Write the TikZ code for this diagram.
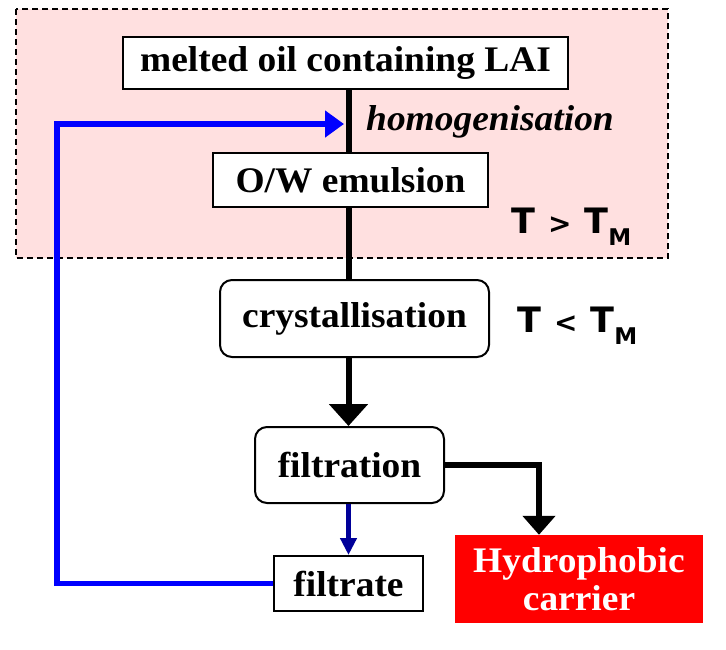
\documentclass[tikz,border=0pt]{standalone}
\usepackage{fontspec}
\setmainfont{Liberation Serif}[FakeStretch=1.04]
\newfontfamily\tfont{DejaVu Sans}
\usetikzlibrary{arrows.meta}
\definecolor{pinkbg}{HTML}{FFE0E0}
\definecolor{navyarrow}{HTML}{000099}
\newcommand{\tmlabel}[1]{T\hspace{13pt}{\fontsize{28}{28}\selectfont #1}\hspace{13pt}T\hspace{0pt}\raisebox{-12pt}{\fontsize{23}{23}\selectfont M}}
\begin{document}
\begin{tikzpicture}[x=1pt,y=-1pt,
  lbl/.style={font=\fontsize{36}{38}\selectfont\bfseries},
  sharpbox/.style={draw=black,line width=2pt,fill=white,inner sep=0pt,lbl},
  roundbox/.style={sharpbox,rounded corners=12pt},
  tlabel/.style={font=\tfont\fontsize{35}{36}\selectfont\bfseries,inner sep=0pt},
  spine/.style={line width=6pt,black},
]
\useasboundingbox (0,0) rectangle (726,649);
% background region
\draw[fill=pinkbg,dashed,dash pattern=on 6pt off 4pt,line width=1.5pt] (16,9) rectangle (668,258);

\node[sharpbox,minimum width=445pt,minimum height=52pt] (melted) at (345.5,63) {melted oil containing LAI};
\node[sharpbox,minimum width=275pt,minimum height=54pt] (emul) at (350.5,180) {O/W emulsion};
\node[roundbox,minimum width=269pt,minimum height=77pt] (cryst) at (354.5,318.5) {crystallisation};
\node[roundbox,minimum width=189pt,minimum height=76pt] (filt) at (349.5,465) {filtration};
\node[sharpbox,minimum width=149pt,minimum height=55pt] (filtrate) at (348.5,583.5) {filtrate};
\node[fill=red,text=white,minimum width=248pt,minimum height=88pt,inner sep=0pt,
      align=center,font=\fontsize{36}{38}\selectfont\bfseries] (carrier) at (579,579) {Hydrophobic\\carrier};

\node[font=\fontsize{36}{38}\selectfont\bfseries\itshape,anchor=base west,inner sep=0pt] (homog) at (366,130) {homogenisation};
\node[tlabel,anchor=base west] (tgt) at (511,233) {\tmlabel{>}};
\node[tlabel,anchor=base west] (tlt) at (517,332) {\tmlabel{<}};

\coordinate (axis) at (348.5,0);
\coordinate (junction) at (344,124);
% main flow
\draw[spine] (axis |- melted.south) -- (axis |- emul.north);
\draw[spine] (axis |- emul.south) -- (axis |- cryst.north);
\draw[spine,-{Triangle[width=38pt,length=22pt]}] (axis |- cryst.south) -- (axis |- filt.north);
\coordinate (bend) at (539,0);
\draw[line width=6pt,-{Triangle[width=32pt,length=19pt]}] (filt.east) -- (bend |- filt.east) -- (bend |- carrier.north);
\draw[line width=4.5pt,navyarrow,-{Triangle[width=16pt,length=17pt]}] (axis |- filt.south) -- (axis |- filtrate.north);
% recycle
\coordinate (left) at (57,0);
\draw[line width=5.5pt,blue,-{Triangle[width=26pt,length=19pt]}] (filtrate.west) -- (left |- filtrate.west) -- (left |- junction) -- (junction);
\end{tikzpicture}
\end{document}
